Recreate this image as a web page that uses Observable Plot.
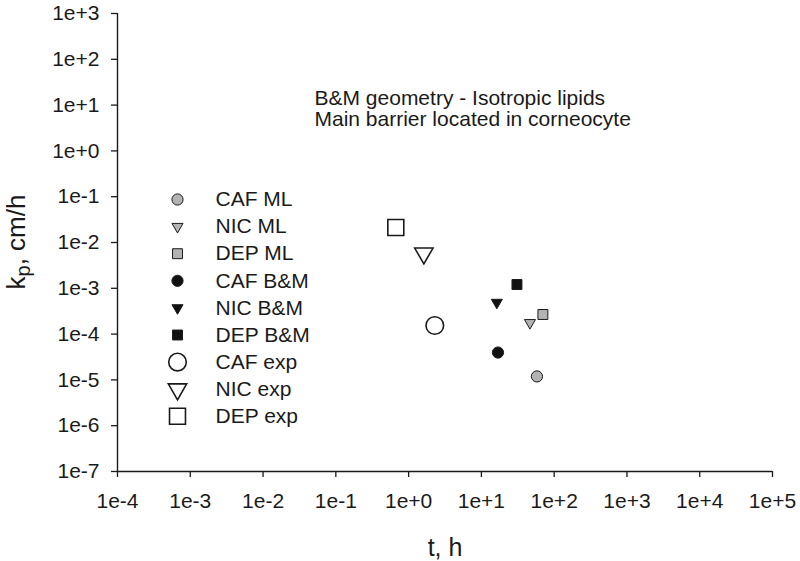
<!DOCTYPE html>
<html><head><meta charset="utf-8">
<script src="https://cdn.jsdelivr.net/npm/d3@7"></script>
<script src="https://cdn.jsdelivr.net/npm/@observablehq/plot@0.6"></script>
<style>body{margin:0;background:#fff}</style>
</head><body><div id="chart"></div>
<script>
// ---- data ----
const seriesNames = ["CAF ML", "NIC ML", "DEP ML", "CAF B&M", "NIC B&M", "DEP B&M", "CAF exp", "NIC exp", "DEP exp"];
const tValues = [58, 46.5, 70, 16.9, 16.3, 30.8, 2.29, 1.62, 0.667];
const kpValues = [1.19e-5, 1.77e-4, 2.68e-4, 3.96e-5, 4.9e-4, 1.21e-3, 1.54e-4, 5.8e-3, 2.13e-2];
const xTickExponents = [-4, -3, -2, -1, 0, 1, 2, 3, 4, 5];
const yTickExponents = [-7, -6, -5, -4, -3, -2, -1, 0, 1, 2, 3];
const annotationLines = ["B&M geometry - Isotropic lipids", "Main barrier located in corneocyte"];
const xTitle = "t, h";
const yTitleParts = ["k", "p", ", cm/h"];

// ---- styles ----
const W = 800, H = 561;
const mL = 117, mR = 28, mT = 13, mB = 90;
const ink = "#1a1a1a";
const symbolOf = {CAF: "circle", NIC: "triangle", DEP: "square"};
const fillOf = {"ML": "#b3b3b3", "B&M": "#111111", "exp": "#ffffff"};
function radius(drug, group) {
  const big = group === "exp";
  if (drug === "NIC") return big ? 6.8 : 4.1;
  if (drug === "DEP") return big ? 9 : 5.6;
  return big ? 8.8 : 5.6;
}
const fmt = d => { const e = Math.round(Math.log10(d)); return "1e" + (e >= 0 ? "+" : "") + e; };

const data = seriesNames.map((name, i) => {
  const [drug, group] = name.split(" ");
  return {name, drug, group, t: tValues[i], kp: kpValues[i]};
});

function dotOpts(d) {
  return {
    symbol: symbolOf[d.drug],
    r: radius(d.drug, d.group),
    fill: fillOf[d.group],
    stroke: ink,
    strokeWidth: d.group === "exp" ? 1.6 : 1,
    rotate: d.drug === "NIC" ? 180 : 0
  };
}

const marks = [];
// axis lines
marks.push(Plot.ruleX([10 ** xTickExponents[0]], {stroke: ink, strokeWidth: 1.4}));
marks.push(Plot.ruleY([10 ** yTickExponents[0]], {stroke: ink, strokeWidth: 1.4}));
marks.push(Plot.axisX({ticks: xTickExponents.map(e => 10 ** e), tickFormat: fmt, tickSize: 6, tickPadding: 16, fontSize: 21, stroke: ink, fill: ink, strokeWidth: 1.3, label: null}));
marks.push(Plot.axisY({ticks: yTickExponents.map(e => 10 ** e), tickFormat: fmt, tickSize: 6, tickPadding: 12, fontSize: 21, stroke: ink, fill: ink, strokeWidth: 1.3, label: null}));

// data points
for (const d of data) {
  marks.push(Plot.dot([d], {x: "t", y: "kp", ...dotOpts(d)}));
}

// legend
data.forEach((d, i) => {
  const dy = 186 + i * 27.1;
  marks.push(Plot.dot([d], {frameAnchor: "top-left", dx: 60, dy, ...dotOpts(d)}));
  marks.push(Plot.text([d], {frameAnchor: "top-left", dx: 98, dy, text: "name", textAnchor: "start", lineAnchor: "middle", fontSize: 21, fill: ink}));
});

// annotation
marks.push(Plot.text([annotationLines.join("\n")], {text: d => d, frameAnchor: "top-left", dx: 197, dy: 77, textAnchor: "start", lineAnchor: "top", lineHeight: 1.0, fontSize: 21, fill: ink}));

// x title
marks.push(Plot.text([xTitle], {text: d => d, frameAnchor: "bottom", dy: 84, lineAnchor: "bottom", fontSize: 25, fill: ink}));

const chart = Plot.plot({
  width: W, height: H,
  marginLeft: mL, marginRight: mR, marginTop: mT, marginBottom: mB,
  style: {fontFamily: "'Liberation Sans', Arial, sans-serif", fontSize: "21px", background: "#fff", color: ink},
  x: {type: "log", domain: [10 ** xTickExponents[0], 10 ** xTickExponents[xTickExponents.length - 1]]},
  y: {type: "log", domain: [10 ** yTickExponents[0], 10 ** yTickExponents[yTickExponents.length - 1]]},
  marks
});
document.getElementById("chart").appendChild(chart);

// y title with subscript
const svg = d3.select(chart);
const yt = svg.append("text")
  .attr("transform", `translate(25,${(mT + H - mB) / 2}) rotate(-90)`)
  .attr("text-anchor", "middle")
  .attr("fill", ink)
  .style("font-size", "26px");
yt.append("tspan").text(yTitleParts[0]);
yt.append("tspan").attr("baseline-shift", "-25%").style("font-size", "20px").text(yTitleParts[1]);
yt.append("tspan").text(yTitleParts[2]);
</script>
</body></html>
